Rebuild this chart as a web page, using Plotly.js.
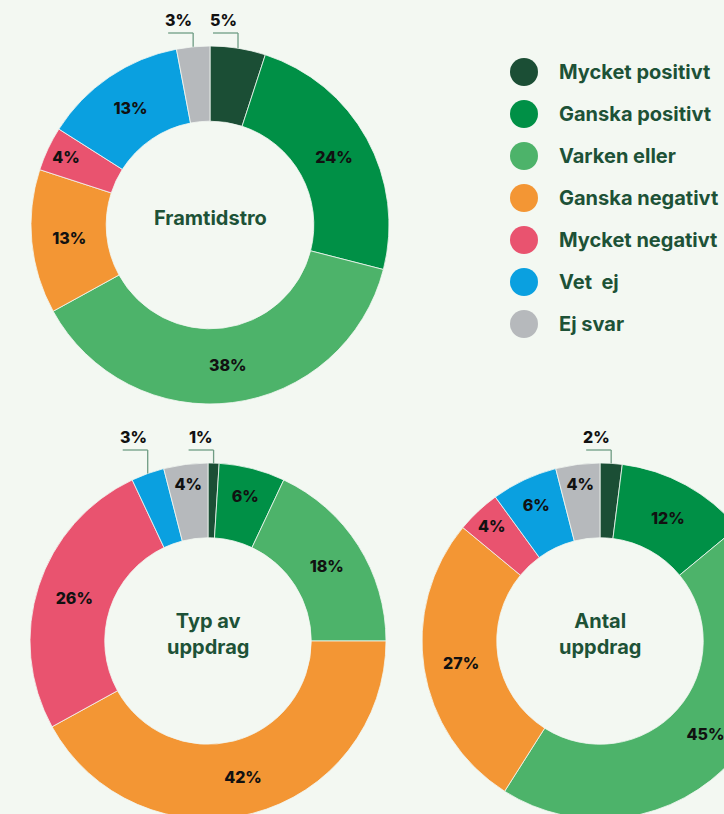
<!DOCTYPE html>
<html>
<head>
<meta charset="utf-8">
<script src="https://cdn.plot.ly/plotly-3.0.1.min.js"></script>
<style>
html,body{margin:0;padding:0;background:#f3f8f2;overflow:hidden;width:724px;height:814px;}
#chart{width:800px;height:840px;}
text{font-variant-ligatures:none;}
</style>
</head>
<body>
<div id="chart"></div>
<script>
// ---- data ----
const categories = ['Mycket positivt','Ganska positivt','Varken eller','Ganska negativt','Mycket negativt','Vet\u00a0 ej','Ej svar'];
const colors = ['#1b4e35','#009046','#4db36a','#f39634','#e9536f','#0aa0e0','#b6b9bc'];

const framtidstroValues = [5, 24, 38, 13, 4, 13, 3];
const typAvUppdragValues = [1, 6, 18, 42, 26, 3, 4];
const antalUppdragValues = [2, 12, 45, 27, 4, 6, 4];

const chartTitles = ['Framtidstro', 'Typ av<br>uppdrag', 'Antal<br>uppdrag'];
// indices of slices labelled outside with a leader line
const outsideLabels = [[0, 6], [0, 5], [0]];

// ---- layout geometry (pixels) ----
const W = 800, H = 840;
const pieGeom = [
  {cx: 210, cy: 225, R: 179},
  {cx: 208, cy: 641, R: 178},
  {cx: 600, cy: 641, R: 178}
];
const seriesList = [framtidstroValues, typAvUppdragValues, antalUppdragValues];

const px2x = p => p / W;
const px2y = p => 1 - p / H;

const FONT = 'Inter, "Open Sans", sans-serif';
const traces = [];
const annotations = [];
const shapes = [];
const darkGreen = '#1d5237';
const lineColor = '#6f9c84';
const pctFont = {family: FONT, size: 16, color: '#111', weight: 800};

seriesList.forEach((vals, k) => {
  const g = pieGeom[k];
  const texts = vals.map((v, i) => outsideLabels[k].includes(i) ? '' : v + '%');
  traces.push({
    type: 'pie',
    values: vals,
    labels: categories,
    text: texts,
    textinfo: 'text',
    textposition: 'inside',
    insidetextorientation: 'horizontal',
    insidetextfont: pctFont,
    sort: false,
    direction: 'clockwise',
    rotation: 0,
    hole: 0.58,
    marker: {colors: colors, line: {color: '#f3f8f2', width: 0.8}},
    domain: {x: [px2x(g.cx - g.R), px2x(g.cx + g.R)], y: [px2y(g.cy + g.R), px2y(g.cy - g.R)]},
    showlegend: false,
    hoverinfo: 'skip'
  });
  // centre title
  annotations.push({xref: 'paper', yref: 'paper', x: px2x(g.cx), y: px2y(g.cy - 7), xanchor: 'center', yanchor: 'middle',
    showarrow: false, text: chartTitles[k], align: 'center',
    font: {family: FONT, size: 20, color: darkGreen, weight: 700}});
  // outside labels with elbow leader lines
  const total = vals.reduce((a, b) => a + b, 0);
  let cum = 0;
  const starts = vals.map(v => { const s = cum; cum += v; return s; });
  outsideLabels[k].forEach(i => {
    const mid = (starts[i] + vals[i] / 2) / total;
    const th = 2 * Math.PI * mid;
    const x = g.cx + g.R * Math.sin(th);
    const y = g.cy - g.R * Math.cos(th);
    const lineY = g.cy - g.R - 13;
    shapes.push({type: 'line', xref: 'paper', yref: 'paper', x0: px2x(x), x1: px2x(x), y0: px2y(y), y1: px2y(lineY), line: {color: lineColor, width: 1.3}});
    shapes.push({type: 'line', xref: 'paper', yref: 'paper', x0: px2x(x - 25), x1: px2x(x), y0: px2y(lineY), y1: px2y(lineY), line: {color: lineColor, width: 1.3}});
    annotations.push({xref: 'paper', yref: 'paper', x: px2x(x + 1), y: px2y(lineY - 1), xanchor: 'right', yanchor: 'bottom', showarrow: false,
      text: vals[i] + '%', font: pctFont});
  });
});

// ---- legend (drawn on a hidden cartesian axis) ----
const legendIdx = categories.map((c, i) => i);
traces.push({
  type: 'scatter', mode: 'markers', x: legendIdx.map(() => 0.5), y: legendIdx,
  marker: {size: 28, color: colors, line: {width: 0}},
  xaxis: 'x', yaxis: 'y', showlegend: false, hoverinfo: 'skip', cliponaxis: false
});
categories.forEach((c, i) => {
  annotations.push({xref: 'paper', yref: 'y', x: px2x(557), y: i, xanchor: 'left', yanchor: 'middle', showarrow: false,
    text: c, font: {family: FONT, size: 20, color: darkGreen, weight: 700}});
});

const layout = {
  width: W, height: H,
  margin: {l: 0, r: 0, t: 0, b: 0},
  paper_bgcolor: '#f3f8f2', plot_bgcolor: 'rgba(0,0,0,0)',
  showlegend: false,
  xaxis: {domain: [px2x(510), px2x(538)], range: [0, 1], visible: false, fixedrange: true},
  yaxis: {domain: [px2y(345), px2y(51)], range: [6.5, -0.5], visible: false, fixedrange: true},
  uniformtext: {mode: 'show', minsize: 16},
  annotations: annotations,
  shapes: shapes
};

Plotly.newPlot('chart', traces, layout, {staticPlot: true, displayModeBar: false});
</script>
</body>
</html>
